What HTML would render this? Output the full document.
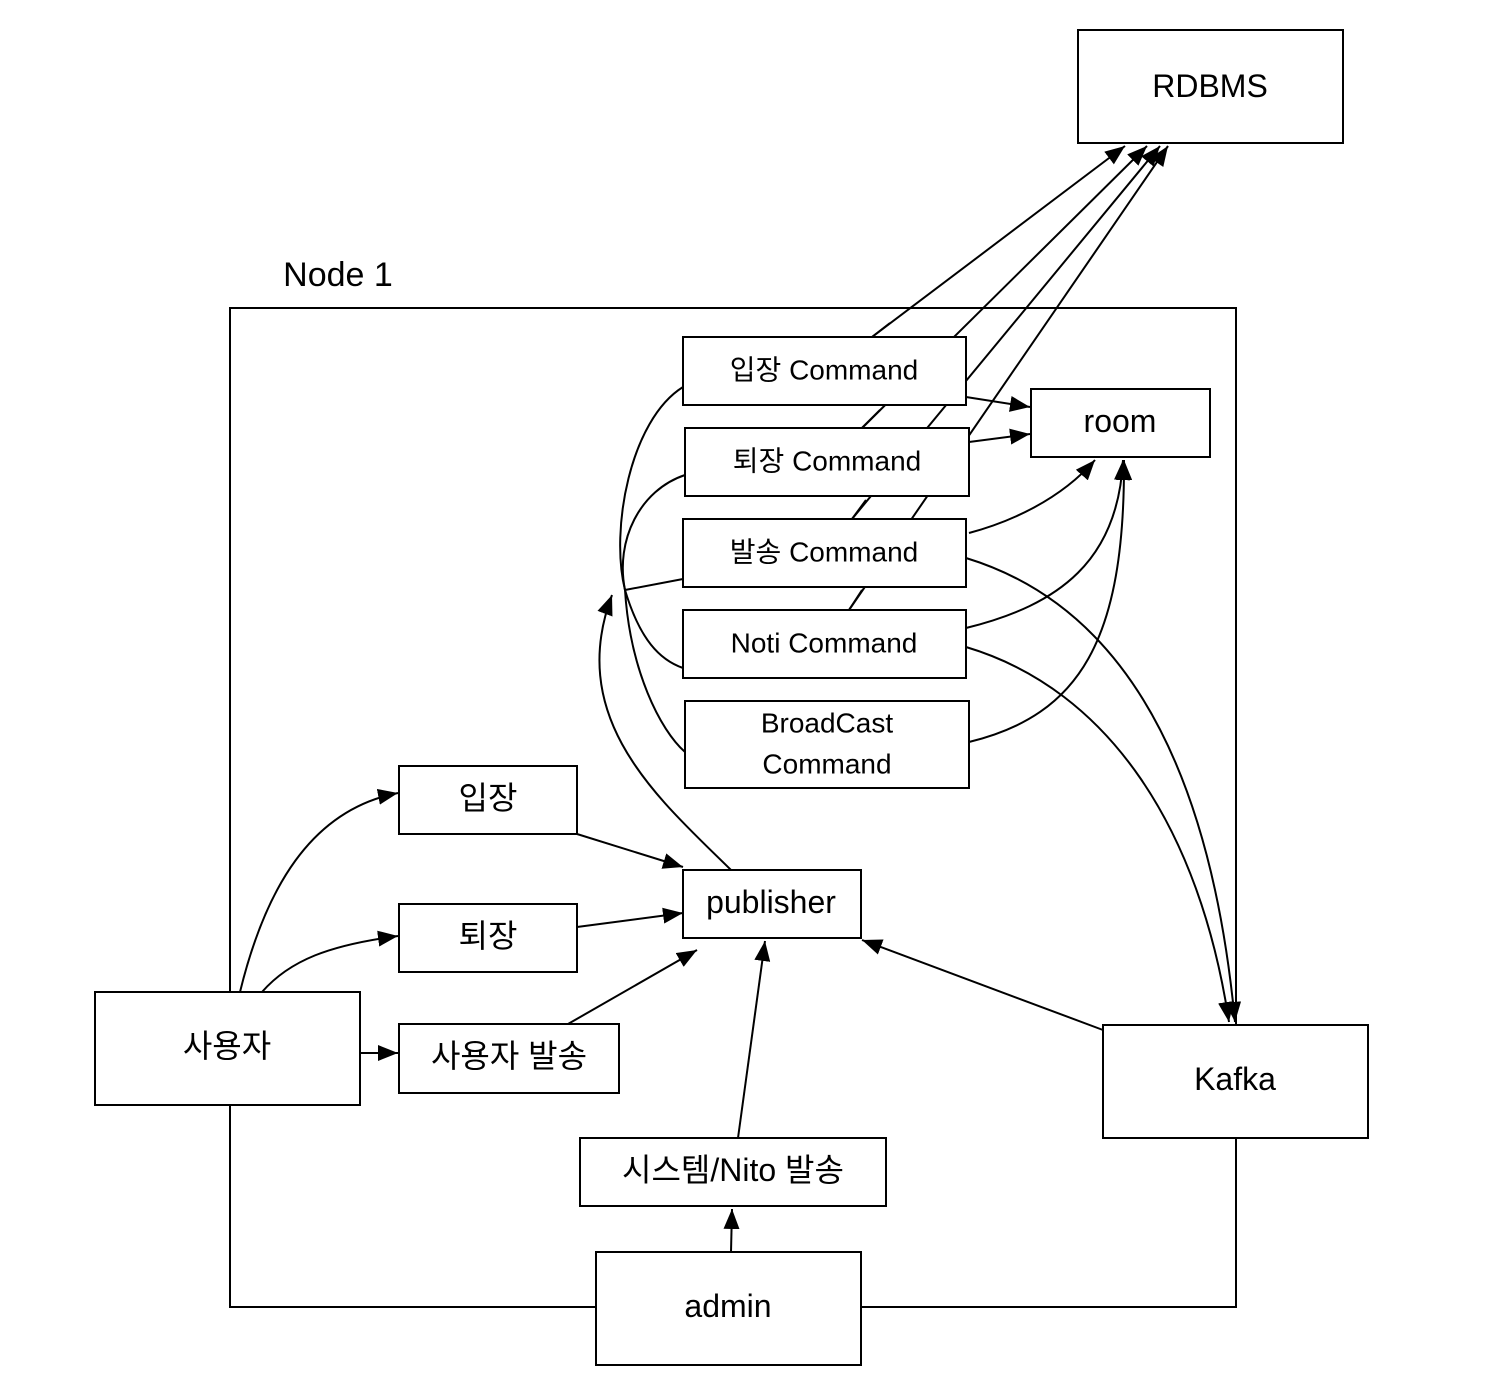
<!DOCTYPE html>
<html><head><meta charset="utf-8"><style>
html,body{margin:0;padding:0;background:#fff;}
svg text{font-family:"Liberation Sans","Noto Sans CJK KR",sans-serif;fill:#000;text-anchor:middle;dominant-baseline:central;}
</style></head><body>
<svg width="1496" height="1392" viewBox="0 0 1496 1392" xmlns="http://www.w3.org/2000/svg">
<defs><marker id="a" viewBox="0 0 10 10" refX="10" refY="5" markerWidth="10" markerHeight="10" markerUnits="userSpaceOnUse" orient="auto"><path d="M0,0 L10,5 L0,10 z" fill="#000"/></marker>
<marker id="b" viewBox="0 0 20 16" refX="20" refY="8" markerWidth="20" markerHeight="16" markerUnits="userSpaceOnUse" orient="auto"><path d="M0,0 L20,8 L0,16 z" fill="#000"/></marker></defs>
<g fill="none" stroke="#000" stroke-width="2">
<rect x="230" y="308" width="1006" height="999"/>
<!-- to RDBMS -->
<path d="M872,337 L1125,146" marker-end="url(#b)"/>
<path d="M862,428 L1147,146" marker-end="url(#b)"/>
<path d="M852,519 L1160,146" marker-end="url(#b)"/>
<path d="M849,610 L1168,146" marker-end="url(#b)"/>
<!-- to room -->
<path d="M966,397 L1030,407" marker-end="url(#b)"/>
<path d="M969,442 L1030,434" marker-end="url(#b)"/>
<path d="M969,533 C1010,522 1060,500 1095,460" marker-end="url(#b)"/>
<path d="M966,628 C1060,605 1118,560 1123,460" marker-end="url(#b)"/>
<path d="M969,742 C1080,715 1125,640 1124,460" marker-end="url(#b)"/>
<!-- to Kafka -->
<path d="M966,558 C1120,605 1210,760 1235,1022" marker-end="url(#b)"/>
<path d="M966,647 C1110,690 1200,830 1229,1022" marker-end="url(#b)"/>
<!-- fan -->
<path d="M683,387 C630,420 610,530 625,590 C640,640 660,660 683,668"/>
<path d="M685,475 C640,490 615,540 625,590 C630,670 660,730 685,752"/>
<path d="M683,579 L625,590"/>
<path d="M731,870 C660,800 565,720 612,595" marker-end="url(#b)"/>
<!-- left -->
<path d="M240,992 C265,890 310,810 398,793" marker-end="url(#b)"/>
<path d="M262,992 C290,960 330,945 398,936" marker-end="url(#b)"/>
<path d="M360,1053 L398,1053" marker-end="url(#b)"/>
<path d="M577,834 L683,867" marker-end="url(#b)"/>
<path d="M577,927 L683,913" marker-end="url(#b)"/>
<path d="M568,1024 L697,950" marker-end="url(#b)"/>
<path d="M738,1138 L765,941" marker-end="url(#b)"/>
<path d="M1103,1030 L862,940" marker-end="url(#b)"/>
<path d="M731,1252 L732,1209" marker-end="url(#b)"/>
</g>
<g fill="#fff" stroke="#000" stroke-width="2">
<rect x="1078" y="30" width="265" height="113"/>
<rect x="683" y="337" width="283" height="68"/>
<rect x="685" y="428" width="284" height="68"/>
<rect x="683" y="519" width="283" height="68"/>
<rect x="683" y="610" width="283" height="68"/>
<rect x="685" y="701" width="284" height="87"/>
<rect x="1031" y="389" width="179" height="68"/>
<rect x="399" y="766" width="178" height="68"/>
<rect x="399" y="904" width="178" height="68"/>
<rect x="399" y="1024" width="220" height="69"/>
<rect x="683" y="870" width="178" height="68"/>
<rect x="95" y="992" width="265" height="113"/>
<rect x="1103" y="1025" width="265" height="113"/>
<rect x="580" y="1138" width="306" height="68"/>
<rect x="596" y="1252" width="265" height="113"/>
</g>
<!-- redraw arrowheads crossing boxes -->
<g fill="none" stroke="#000" stroke-width="2">
<path d="M872,337 L890,323"/><path d="M862,428 L880,410"/><path d="M852,519 L866,500"/><path d="M849,610 L862,590"/>
</g>
<text x="1210" y="86" font-size="32">RDBMS</text>
<text x="338" y="275" font-size="34" style="text-anchor:middle">Node 1</text>
<text x="824" y="370" font-size="28">입장 Command</text>
<text x="827" y="461" font-size="28">퇴장 Command</text>
<text x="824" y="552" font-size="28">발송 Command</text>
<text x="824" y="643" font-size="28">Noti Command</text>
<text x="827" y="723" font-size="28">BroadCast</text>
<text x="827" y="764" font-size="28">Command</text>
<text x="1120" y="421" font-size="32">room</text>
<text x="488" y="798" font-size="32">입장</text>
<text x="488" y="936" font-size="32">퇴장</text>
<text x="509" y="1056" font-size="32">사용자 발송</text>
<text x="771" y="902" font-size="32">publisher</text>
<text x="227" y="1046" font-size="32">사용자</text>
<text x="1235" y="1079" font-size="32">Kafka</text>
<text x="733" y="1170" font-size="32">시스템/Nito 발송</text>
<text x="728" y="1306" font-size="32">admin</text>
</svg>
</body></html>
